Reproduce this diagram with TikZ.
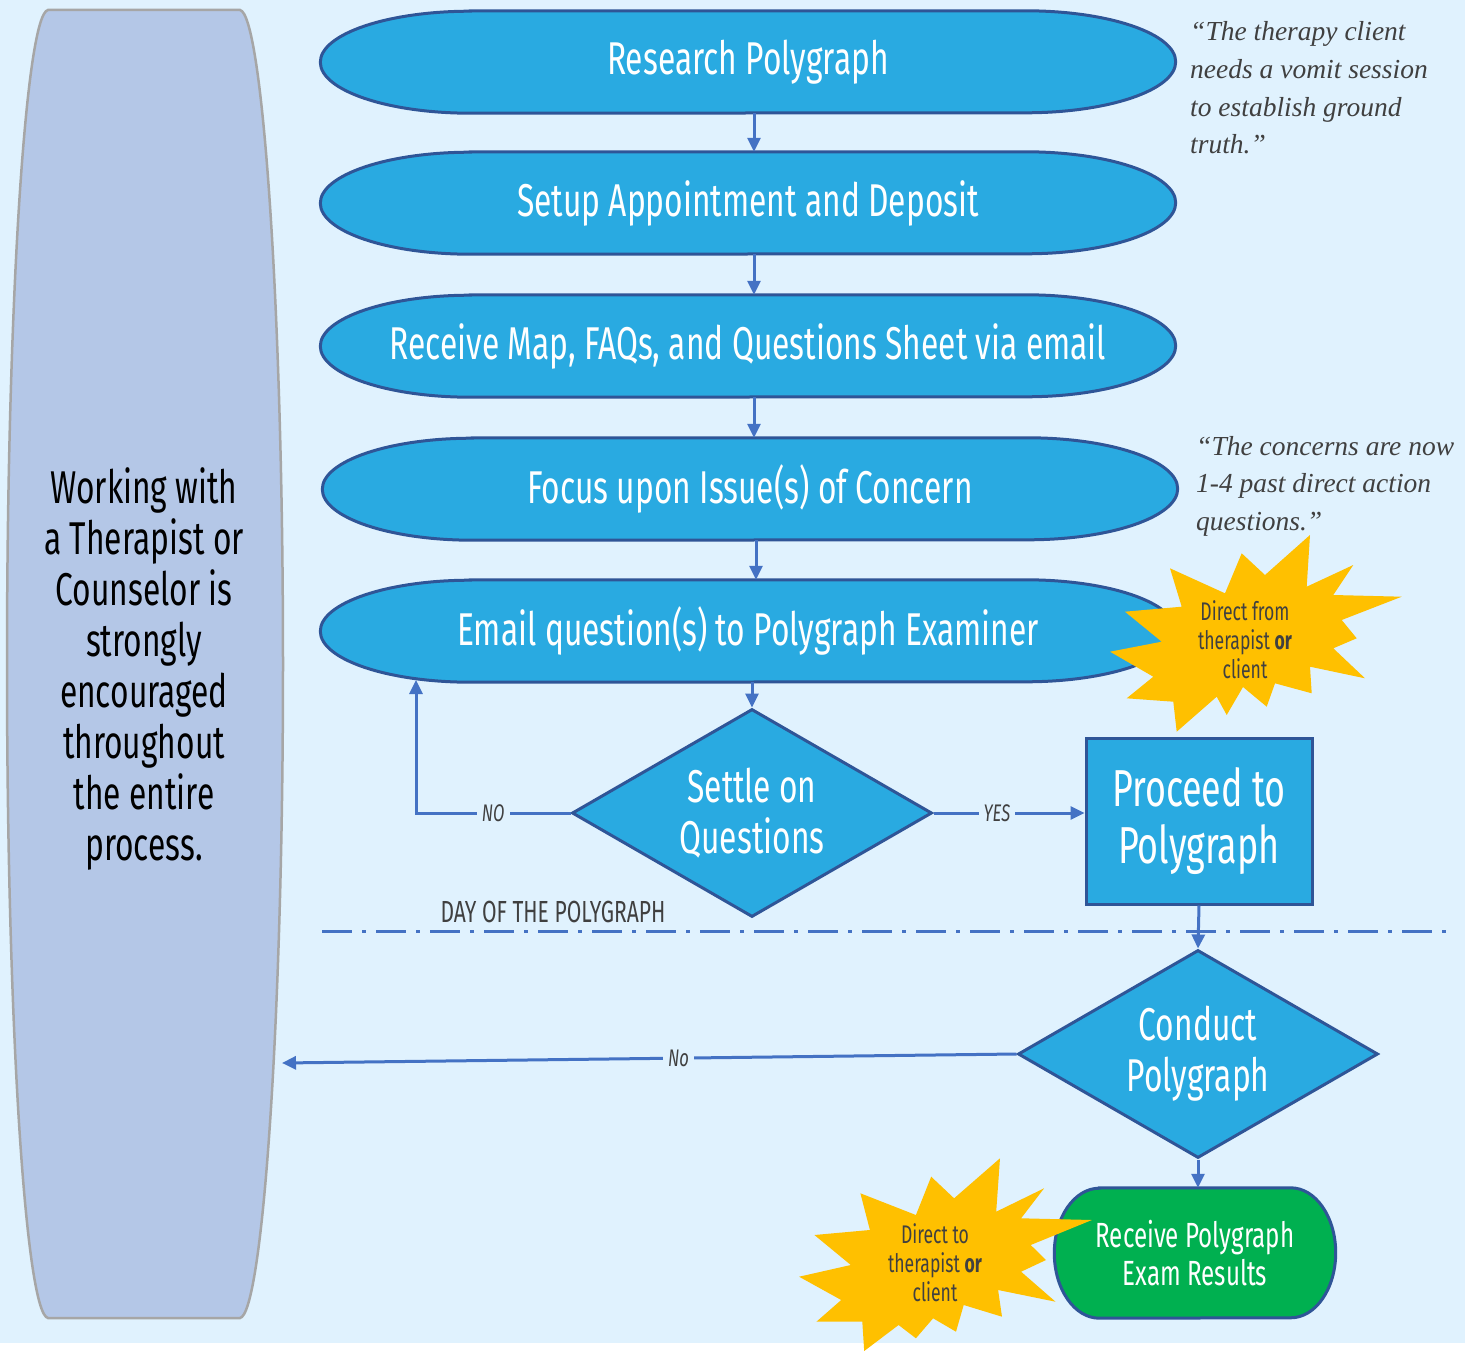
\documentclass[tikz,border=0pt]{standalone}
\usepackage{fontspec}
\usetikzlibrary{shapes.geometric,arrows.meta,positioning}
\newfontfamily\condfont[FakeStretch=0.69]{Fira Sans}
\newfontfamily\quotefont{Liberation Serif}
\definecolor{bgblue}{RGB}{224,242,254}
\definecolor{pillblue}{RGB}{41,170,225}
\definecolor{edgeblue}{RGB}{47,85,151}
\definecolor{flowblue}{RGB}{68,114,196}
\definecolor{sidefill}{RGB}{180,199,231}
\definecolor{sideedge}{RGB}{166,166,166}
\definecolor{resgreen}{RGB}{0,176,80}
\definecolor{staryellow}{RGB}{255,192,0}
\definecolor{darktext}{RGB}{64,64,64}
\pgfdeclarelayer{back}
\pgfsetlayers{back,main}

\begin{document}
\begin{tikzpicture}[x=1pt, y=-1pt, >={Triangle[length=14pt,width=13pt]},
  pill/.style={minimum width=855, minimum height=102, inner sep=0, text=white,
    font=\condfont\fontsize{46}{51}\selectfont},
  pillbody/.style={fill=pillblue, draw=edgeblue, line width=3pt},
  decision/.style={diamond, shape aspect=1.73, minimum width=360, minimum height=208,
    inner sep=0, fill=pillblue, draw=edgeblue, line width=3pt, text=white, align=center,
    font=\condfont\fontsize{46}{51}\selectfont},
  procbox/.style={rectangle, minimum width=226, minimum height=166, fill=pillblue,
    draw=edgeblue, line width=3pt, text=white, align=center,
    font=\condfont\fontsize{52}{57}\selectfont},
  flow/.style={->, draw=flowblue, line width=3pt},
  lbl/.style={fill=bgblue, text=darktext, inner sep=5pt,
    font=\condfont\itshape\fontsize{24}{24}\selectfont},
  burst/.style={fill=staryellow},
  bursttext/.style={text=darktext, align=center, font=\condfont\fontsize{25.5}{29}\selectfont},
  quote/.style={anchor=west, align=left, inner sep=0, text=darktext,
    font=\quotefont\itshape\fontsize{27.5}{37.6}\selectfont}]

  \useasboundingbox (0,0) rectangle (1465,1351);

  % side note
  \draw[fill=sidefill, draw=sideedge, line width=2.5pt] (48,10) -- (240,10)
    .. controls (262,14) and (283,300) .. (283,664)
    .. controls (283,1030) and (262,1314) .. (240,1318) -- (48,1318)
    .. controls (26,1314) and (7,1030) .. (7,664)
    .. controls (7,300) and (26,14) .. (48,10) -- cycle;
  \node[align=center, font=\condfont\fontsize{46}{51}\selectfont] (sidenote) at (144,669)
    {Working with\\a Therapist or\\Counselor is\\strongly\\encouraged\\throughout\\the entire\\process.};
  \coordinate (sidein) at (282,1063);

  % main steps
  \node[pill] (research) at (748,62) {Research Polygraph};
  \node[pill] (setup) at (748,203) {Setup Appointment and Deposit};
  \node[pill] (mapsheet) at (748,346) {Receive Map, FAQs, and Questions Sheet via email};
  \node[pill] (focus) at (750,489) {Focus upon Issue(s) of Concern};
  \node[pill] (email) at (748,631) {Email question(s) to Polygraph Examiner};
  \node[decision] (settle) at (752,813) {Settle on\\Questions};
  \node[procbox] (proceed) at (1199,821) {Proceed to\\Polygraph};
  \node[decision] (conduct) at (1198,1054) {Conduct\\Polygraph};
  \node[minimum width=281, minimum height=130, inner sep=0, text=white, align=center,
    font=\condfont\fontsize{35}{38}\selectfont] (results) at (1195,1253)
    {Receive Polygraph\\Exam Results};
  \coordinate (noend) at (416,680);

  \begin{pgfonlayer}{back}
    \fill[bgblue] (0,0) rectangle (1465,1343);
    \foreach \p in {research,setup,mapsheet,focus,email}
      \draw[pillbody] ([xshift=150]\p.north west) -- ([xshift=-150]\p.north east)
        arc[start angle=90, end angle=-90, x radius=150pt, y radius=51pt]
        -- ([xshift=150]\p.south west)
        arc[start angle=270, end angle=90, x radius=150pt, y radius=51pt] -- cycle;
    \draw[fill=resgreen, draw=edgeblue, line width=3pt]
      ([xshift=45]results.north west) -- ([xshift=-45]results.north east)
      arc[start angle=90, end angle=-90, x radius=45pt, y radius=65pt]
      -- ([xshift=45]results.south west)
      arc[start angle=270, end angle=90, x radius=45pt, y radius=65pt] -- cycle;
  \end{pgfonlayer}

  % connectors
  \foreach \a/\b in {research/setup, setup/mapsheet, mapsheet/focus, focus/email}
    \draw[flow] ([xshift=6]\a.south) -- ([xshift=6]\a.south |- \b.north);
  \draw[flow] (email.south -| settle.north) -- (settle.north);
  \draw[flow] (settle.west) -| node[lbl, pos=0.25] {NO} (noend);
  \draw[flow] (settle.east) -- node[lbl, pos=0.42] {YES} (settle.east -| proceed.west);
  \draw[flow] (proceed.south) -- (conduct.north);
  \draw[flow] (conduct.west) -- node[lbl, pos=0.46] {No} (sidein);
  \draw[flow] (conduct.south) -- (conduct.south |- results.north);

  % day of the polygraph
  \draw[flowblue, line width=3pt, dash pattern=on 30pt off 10pt on 4pt off 10pt]
    (322,931) -- (1450,931);
  \node[text=darktext, font=\condfont\fontsize{30.5}{30.5}\selectfont] (daylabel) at (553,912)
    {DAY OF THE POLYGRAPH};

  % callouts
  \fill[burst] (1310,535) -- (1306.7,586.7) -- (1353.3,565) -- (1333.3,595)
    -- (1401.7,596.7) -- (1341.7,620) -- (1356.7,638.3) -- (1333.3,648.3)
    -- (1365,678.3) -- (1310,666.7) -- (1311.7,693.3) -- (1275,683.3)
    -- (1266.7,706.7) -- (1243,687) -- (1226.7,715) -- (1216.7,696.7)
    -- (1176.7,731.7) -- (1173.3,701.7) -- (1126.7,698.3) -- (1153.3,676.7)
    -- (1110,651.7) -- (1161.7,641.7) -- (1125,611.7) -- (1181.7,606.7)
    -- (1170,568.3) -- (1225,593.3) -- (1241.7,553.3) -- (1265,575) -- cycle;
  \node[bursttext] (fromnote) at (1245,640) {Direct from\\therapist \textbf{or}\\client};

  \fill[burst] (1000,1158.3) -- (996.2,1211.7) -- (1044.1,1188.3) -- (1021.1,1218.3)
    -- (1091.9,1220) -- (1030.7,1245) -- (1046,1260) -- (1021.1,1271.7)
    -- (1055.5,1301.7) -- (998.1,1290) -- (1002,1316.7) -- (963.7,1305)
    -- (956,1331.7) -- (933.1,1318.3) -- (915.9,1338.3) -- (898.6,1325)
    -- (864.2,1351) -- (862.3,1321.7) -- (816.4,1321.7) -- (841.2,1300)
    -- (799.1,1276.7) -- (850.8,1265) -- (814.4,1235) -- (869.9,1230)
    -- (860.4,1193.3) -- (915.9,1215) -- (931.2,1176.7) -- (954.1,1198.3) -- cycle;
  \node[bursttext] (tonote) at (935,1263) {Direct to\\therapist \textbf{or}\\client};

  % quotes
  \node[quote] (quoteone) at (1190,88)
    {“The therapy client\\needs a vomit session\\to establish ground\\truth.”};
  \node[quote] (quotetwo) at (1196,486)
    {“The concerns are now\\1-4 past direct action\\questions.”};
\end{tikzpicture}
\end{document}
